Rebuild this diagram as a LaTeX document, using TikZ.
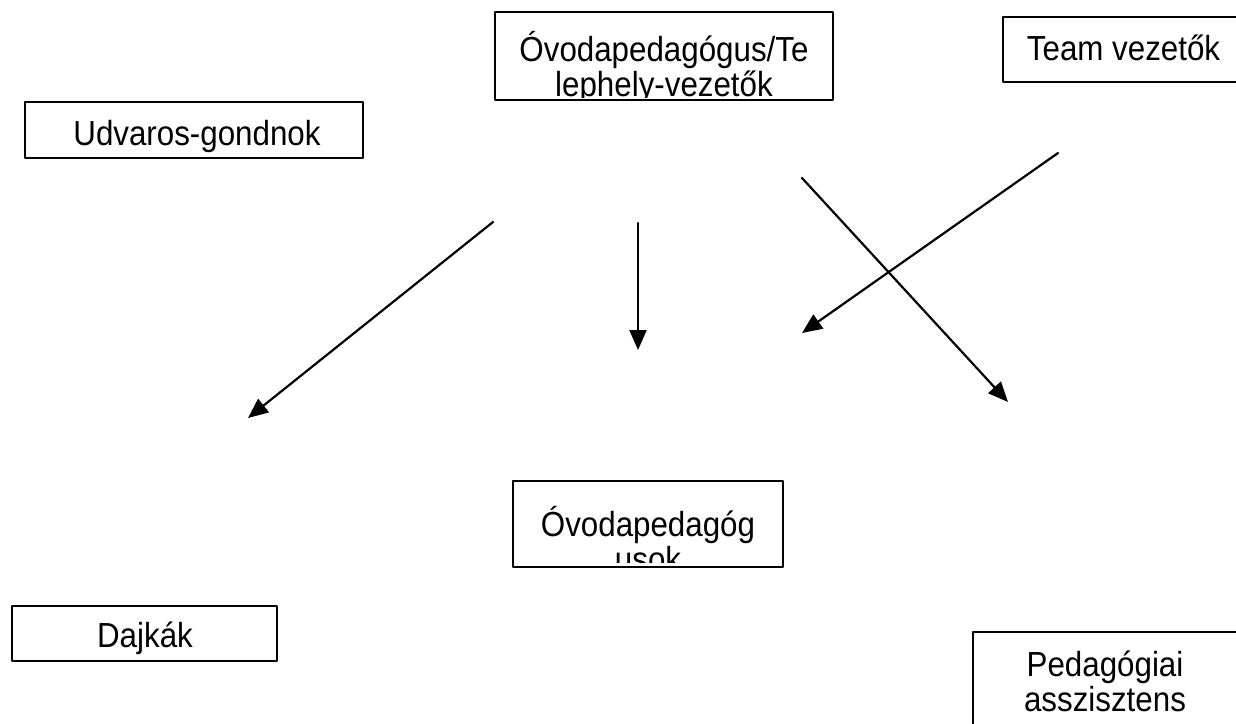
\documentclass[tikz,border=0pt]{standalone}
\usepackage{fontspec}
\setmainfont{Liberation Sans}[FakeStretch=0.9]
\usetikzlibrary{arrows.meta}

\begin{document}
\begin{tikzpicture}[x=0.5pt,y=-0.5pt,line cap=round,line join=round,
  frame/.style={draw,line width=1pt,inner sep=0pt},
  lbl/.style={anchor=base,inner sep=0pt,font=\fontsize{17.4}{17.5}\selectfont},
  arr/.style={-{Triangle[length=10pt,width=8.5pt]},line width=1.1pt}]
\clip (0,0) rectangle (1236,723);
% arrow ends
\coordinate (gondFrom) at (493,222);
\coordinate (gondTo) at (248,418);
\coordinate (midFrom) at (638,223);
\coordinate (midTo) at (638,350);
\coordinate (teamFrom) at (1058,153);
\coordinate (teamTo) at (802,333);
\coordinate (vezFrom) at (802,178);
\coordinate (vezTo) at (1008,402);
\draw[arr] (gondFrom) -- (gondTo);
\draw[arr] (midFrom) -- (midTo);
\draw[arr] (teamFrom) -- (teamTo);
\draw[arr] (vezFrom) -- (vezTo);
% boxes
\node[frame,minimum width=169pt,minimum height=44pt] (vezeto) at (664,56) {};
\begin{scope}
\clip (495,12) rectangle (833,97);
\node[lbl] (vezeto1) at (664,61) {Óvodapedagógus/Te};
\node[lbl] (vezeto2) at (664,96) {lephely-vezetők};
\end{scope}
\node[frame,minimum width=128.5pt,minimum height=32.5pt] (team) at (1131.5,49.5) {};
\node[lbl] (teamtxt) at (1123.5,60) {Team vezetők};
\node[frame,minimum width=169pt,minimum height=28pt] (gondnok) at (194,130) {};
\node[lbl] (gondnoktxt) at (197,145) {Udvaros-gondnok};
\node[frame,minimum width=135pt,minimum height=43pt] (ovodap) at (648,524) {};
\begin{scope}
\clip (513,481) rectangle (783,562);
\node[lbl] (ovodap1) at (648,536) {Óvodapedagóg};
\node[lbl] (ovodap2) at (648,571) {usok};
\end{scope}
\node[frame,minimum width=132.5pt,minimum height=27.5pt] (dajkak) at (144.5,633.5) {};
\node[lbl] (dajkaktxt) at (145,647) {Dajkák};
\node[frame,minimum width=143.5pt,minimum height=54pt] (asszisztens) at (1116.5,686) {};
\node[lbl] (asszisztens1) at (1105,676) {Pedagógiai};
\node[lbl] (asszisztens2) at (1105,711) {asszisztens};
\end{tikzpicture}
\end{document}
